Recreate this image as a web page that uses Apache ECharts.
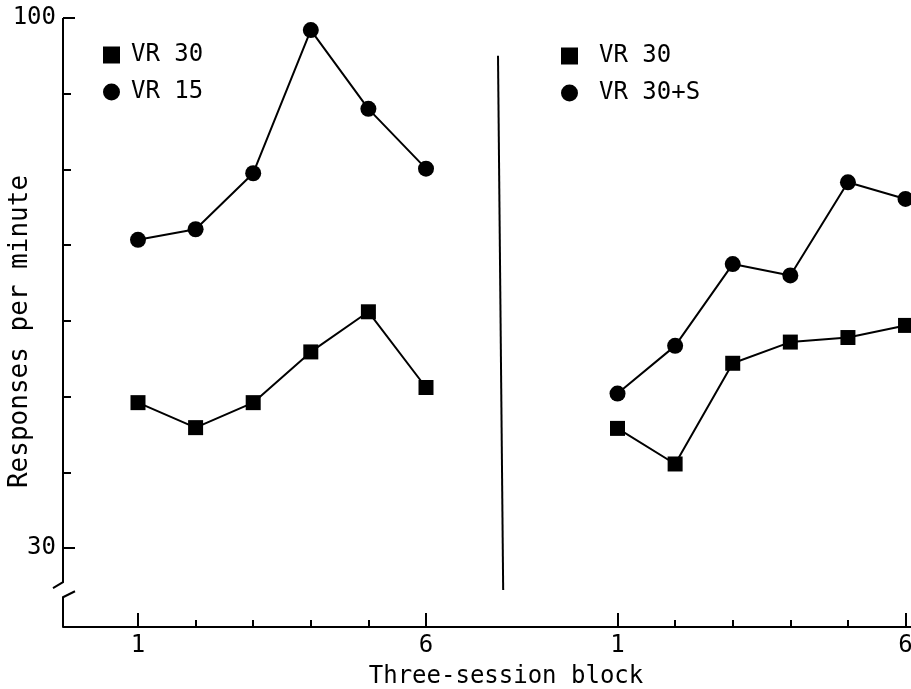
<!DOCTYPE html>
<html>
<head>
<meta charset="utf-8">
<script src="https://cdn.jsdelivr.net/npm/echarts@6/dist/echarts.min.js"></script>
<style>
html,body{margin:0;padding:0;background:#fff;}
#chart{width:911px;height:689px;}
</style>
</head>
<body>
<div id="chart"></div>
<script>
// ---- data ----
const BLOCKS = [1, 2, 3, 4, 5, 6];
const LEFT_VR30 = [49.2, 45.9, 49.2, 55.9, 61.2, 51.2];
const LEFT_VR15 = [70.7, 72.1, 79.5, 98.4, 88.0, 80.1];
const RIGHT_VR30 = [45.8, 41.1, 54.4, 57.2, 57.8, 59.4];
const RIGHT_VR30S = [50.4, 56.7, 67.5, 66.0, 78.3, 76.1];
const Y_LABELS = [30, 100];
const Y_MINOR = [40, 50, 60, 70, 80, 90];
const X_LABEL_BLOCKS = [1, 6];
const X_MINOR_BLOCKS = [2, 3, 4, 5];
const LEFT_LEGEND = ['VR 30', 'VR 15'];
const RIGHT_LEGEND = ['VR 30', 'VR 30+S'];
const Y_NAME = 'Responses per minute';
const X_NAME = 'Three-session block';

// ---- layout constants ----
const OFF = 8.325;          // offset of the right panel along the shared block axis
const XMIN = -0.302, XMAX = 14.42;
const YMIN = 19.57, YMAX = 100;
const BREAK_HI = 25.5, BREAK_LO = 23.5;
const DIVIDER = [[7.25, 95], [7.34, 24.45]];
const FONT = 'DejaVu Sans Mono';

const pts = (xs, ys, off) => xs.map((x, i) => [x + off, ys[i]]);
const majorX = X_LABEL_BLOCKS.concat(X_LABEL_BLOCKS.map(v => v + OFF));
const minorX = X_MINOR_BLOCKS.concat(X_MINOR_BLOCKS.map(v => v + OFF));

const chart = echarts.init(document.getElementById('chart'), null, {renderer: 'canvas'});

const lineSeries = (name, data, symbol) => ({
  name, type: 'line', data, symbol, symbolSize: symbol === 'rect' ? 15 : 16,
  xAxisIndex: 0, yAxisIndex: 0,
  lineStyle: {color: '#000', width: 2},
  itemStyle: {color: '#000'},
  emphasis: {disabled: true}, animation: false
});

const legendCommon = {
  orient: 'vertical', itemWidth: 17, itemHeight: 17, itemGap: 13,
  lineStyle: {width: 0, opacity: 0},
  itemStyle: {color: '#000'},
  textStyle: {fontFamily: FONT, fontSize: 24, color: '#000', lineHeight: 20},
  selectedMode: false
};

chart.setOption({
  backgroundColor: '#fff',
  animation: false,
  grid: {left: 63, right: 0, top: 18, bottom: 62, containLabel: false, outerBoundsMode: 'none'},
  legend: [
    Object.assign({}, legendCommon, {
      left: 98, top: 38,
      data: [{name: LEFT_LEGEND[0], icon: 'rect'}, {name: LEFT_LEGEND[1], icon: 'circle'}],
      textStyle: Object.assign({}, legendCommon.textStyle, {padding: [0, 0, 0, 6]})
    }),
    Object.assign({}, legendCommon, {
      left: 556, top: 39,
      data: [{name: RIGHT_LEGEND[0], icon: 'rect'}, {name: RIGHT_LEGEND[1], icon: 'circle'}],
      textStyle: Object.assign({}, legendCommon.textStyle, {padding: [0, 0, 0, 16]})
    })
  ],
  xAxis: [
    {
      type: 'value', min: XMIN, max: XMAX, position: 'bottom',
      axisLine: {show: true, onZero: false, lineStyle: {color: '#000', width: 2}},
      axisTick: {show: true, inside: true, length: 14, customValues: majorX, lineStyle: {color: '#000', width: 2}},
      axisLabel: {show: true, customValues: majorX, margin: 7, fontFamily: FONT, fontSize: 24, color: '#000',
        formatter: v => String(Math.round(v > 7 ? v - OFF : v))},
      splitLine: {show: false},
      name: X_NAME, nameLocation: 'middle', nameGap: 38,
      nameTextStyle: {fontFamily: FONT, fontSize: 24, color: '#000', padding: [0, 0, 0, 38]}
    },
    {
      type: 'value', min: XMIN, max: XMAX, position: 'bottom',
      axisLine: {show: false, onZero: false},
      axisTick: {show: true, inside: true, length: 7, customValues: minorX, lineStyle: {color: '#000', width: 2}},
      axisLabel: {show: false},
      splitLine: {show: false}
    }
  ],
  yAxis: [
    {
      type: 'value', min: YMIN, max: YMAX, position: 'left',
      axisLine: {show: false, onZero: false},
      axisTick: {show: true, inside: true, length: 12, customValues: Y_LABELS, lineStyle: {color: '#000', width: 2}},
      axisLabel: {show: true, customValues: Y_LABELS, margin: 7, fontFamily: FONT, fontSize: 24, color: '#000'},
      splitLine: {show: false},
      name: Y_NAME, nameLocation: 'middle', nameGap: 30, nameRotate: 90, nameMoveOverlap: false,
      nameTextStyle: {fontFamily: FONT, fontSize: 26, color: '#000', padding: [0, 18, 0, 0]}
    },
    {
      type: 'value', min: YMIN, max: YMAX, position: 'left',
      axisLine: {show: false, onZero: false},
      axisTick: {show: true, inside: true, length: 8, customValues: Y_MINOR, lineStyle: {color: '#000', width: 2}},
      axisLabel: {show: false},
      splitLine: {show: false}
    }
  ],
  series: [
    lineSeries(LEFT_LEGEND[0], pts(BLOCKS, LEFT_VR30, 0), 'rect'),
    lineSeries(LEFT_LEGEND[1], pts(BLOCKS, LEFT_VR15, 0), 'circle'),
    lineSeries(RIGHT_LEGEND[0], pts(BLOCKS, RIGHT_VR30, OFF), 'rect'),
    lineSeries(RIGHT_LEGEND[1], pts(BLOCKS, RIGHT_VR30S, OFF), 'circle'),
    {
      name: 'divider', type: 'line', data: DIVIDER, symbol: 'none',
      xAxisIndex: 0, yAxisIndex: 0,
      lineStyle: {color: '#000', width: 2}, emphasis: {disabled: true}, silent: true
    }
  ]
});

// y axis line with a scale break, placed via the axis scales
const P = (x, y) => chart.convertToPixel({xAxisIndex: 0, yAxisIndex: 0}, [x, y]);
const pTop = P(XMIN, YMAX), pBh = P(XMIN, BREAK_HI), pBl = P(XMIN, BREAK_LO), pBot = P(XMIN, YMIN);
const x0 = pTop[0];
const st = {stroke: '#000', lineWidth: 2, fill: null};
chart.setOption({
  graphic: [
    {type: 'polyline', shape: {points: [[x0, pTop[1]], [x0, pBh[1]], [x0 - 10, pBh[1] + 6]]}, style: st, silent: true},
    {type: 'polyline', shape: {points: [[x0 + 12, pBl[1] - 6], [x0, pBl[1]], [x0, pBot[1]]]}, style: st, silent: true}
  ]
});
</script>
</body>
</html>
